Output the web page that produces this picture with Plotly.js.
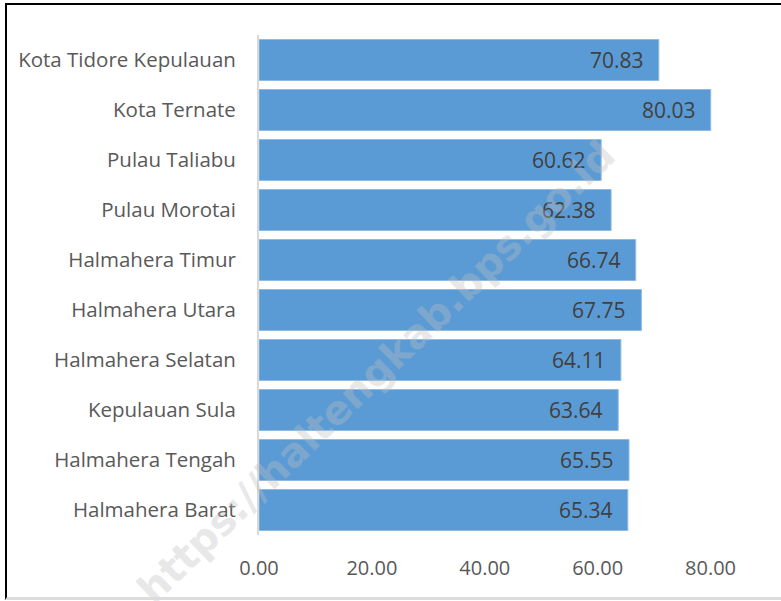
<!DOCTYPE html>
<html>
<head>
<meta charset="utf-8">
<script src="https://cdn.plot.ly/plotly-3.0.1.min.js"></script>
<style>
html,body{margin:0;padding:0;background:#fff;}
#wrap{position:relative;width:781px;height:601px;overflow:hidden;}
#chart{position:absolute;left:0;top:0;width:781px;height:601px;}
#frame{position:absolute;left:5px;top:3px;width:800px;height:592px;border-top:2px solid #000;border-left:2px solid #000;border-bottom:3px solid #dcdcdc;pointer-events:none;}
</style>
</head>
<body>
<div id="wrap">
<div id="chart"></div>
<div id="frame"></div>
</div>
<script>
const categories = ["Halmahera Barat","Halmahera Tengah","Kepulauan Sula","Halmahera Selatan","Halmahera Utara","Halmahera Timur","Pulau Morotai","Pulau Taliabu","Kota Ternate","Kota Tidore Kepulauan"];
const values = [65.34, 65.55, 63.64, 64.11, 67.75, 66.74, 62.38, 60.62, 80.03, 70.83];
const tickValues = [0, 20, 40, 60, 80];
const tickLabels = ["0.00","20.00","40.00","60.00","80.00"];
const watermark = "https://haltengkab.bps.go.id";

const FONT = "Open Sans, Noto Sans, DejaVu Sans, sans-serif";

const trace = {
  type: "bar",
  orientation: "h",
  y: categories,
  x: values,
  marker: {color: "#5B9BD5", line: {color: "#8fbbe3", width: 1}},
  hoverinfo: "none"
};

const valueLabels = categories.map((c, i) => ({
  xref: "x", yref: "y",
  x: values[i], y: c,
  text: values[i].toFixed(2),
  showarrow: false,
  xanchor: "right", yanchor: "middle",
  xshift: -13,
  font: {family: FONT, size: 21, color: "#404040"}
}));

const layout = {
  width: 781, height: 601,
  margin: {l: 259, r: 14, t: 35, b: 66},
  paper_bgcolor: "#ffffff",
  plot_bgcolor: "#ffffff",
  showlegend: false,
  bargap: 0.18,
  font: {family: FONT, color: "#595959"},
  xaxis: {
    range: [0, 90],
    tickvals: tickValues,
    ticktext: tickLabels,
    showgrid: false,
    zeroline: false,
    showline: false,
    ticks: "outside",
    ticklen: 15,
    tickcolor: "rgba(0,0,0,0)",
    tickfont: {family: FONT, size: 20, color: "#595959"},
    fixedrange: true
  },
  yaxis: {
    type: "category",
    categoryorder: "array",
    categoryarray: categories,
    showgrid: false,
    zeroline: false,
    showline: true,
    linecolor: "#d9d9d9",
    linewidth: 2,
    ticks: "outside",
    ticklen: 17,
    tickcolor: "rgba(0,0,0,0)",
    tickfont: {family: FONT, size: 20.5, color: "#595959"},
    fixedrange: true
  },
  annotations: valueLabels.concat([{
    xref: "paper", yref: "paper",
    x: (376 - 259) / 508, y: (535 - 372) / 500,
    xanchor: "center", yanchor: "middle",
    text: watermark,
    showarrow: false,
    textangle: -44,
    font: {family: "DejaVu Sans, sans-serif", size: 40, color: "rgba(190,190,190,0.35)", weight: "bold"}
  }])
};

Plotly.newPlot("chart", [trace], layout, {displayModeBar: false, staticPlot: true});
</script>
</body>
</html>
